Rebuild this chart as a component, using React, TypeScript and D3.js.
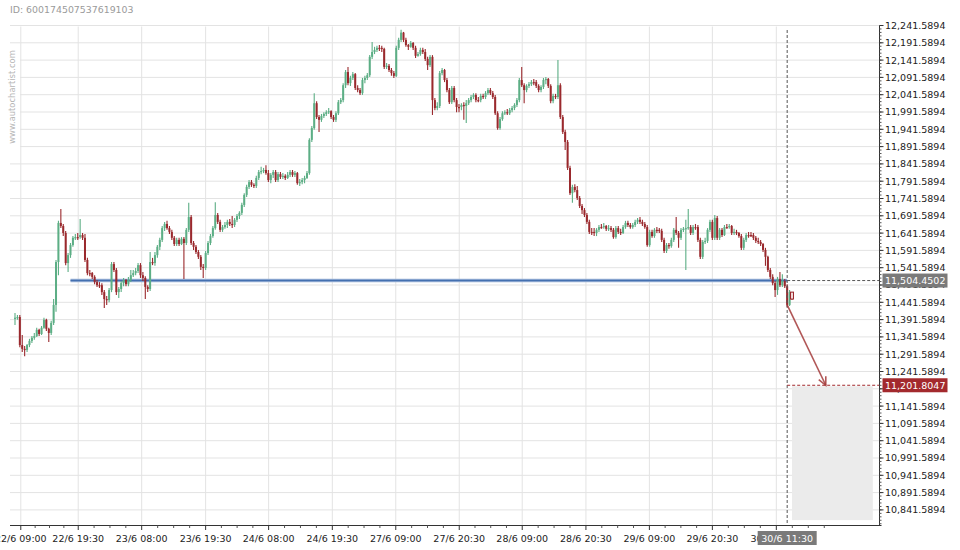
import React from 'react';
import * as d3 from 'd3';

const ID_TEXT = 'ID: 600174507537619103';
const WATERMARK = 'www.autochartist.com';

const FIRST_OPEN = 11394;
const CLOSE = [
  11397, 11399, 11318, 11307, 11304, 11318, 11330, 11339, 11344, 11362,
  11350, 11368, 11391, 11365, 11353, 11382, 11434, 11558, 11671, 11662,
  11642, 11555, 11578, 11607, 11628, 11630, 11630, 11636, 11628, 11564,
  11526, 11526, 11515, 11500, 11491, 11491, 11471, 11451, 11448, 11477,
  11552, 11535, 11471, 11480, 11497, 11506, 11494, 11506, 11520, 11526,
  11532, 11549, 11520, 11512, 11486, 11480, 11558, 11555, 11578, 11602,
  11622, 11656, 11668, 11656, 11645, 11628, 11610, 11622, 11610, 11625,
  11613, 11651, 11688, 11613, 11602, 11587, 11573, 11544, 11541, 11584,
  11613, 11633, 11656, 11694, 11674, 11651, 11659, 11665, 11674, 11668,
  11665, 11680, 11691, 11700, 11723, 11752, 11775, 11789, 11781, 11778,
  11801, 11818, 11821, 11824, 11815, 11795, 11810, 11818, 11795, 11812,
  11804, 11807, 11801, 11810, 11818, 11810, 11815, 11786, 11789, 11795,
  11801, 11815, 11911, 11945, 12017, 11977, 11969, 11980, 11986, 11991,
  11994, 11977, 11969, 11988, 12020, 12026, 12069, 12107, 12075, 12090,
  12101, 12061, 12055, 12046, 12084, 12090, 12098, 12151, 12165, 12171,
  12177, 12177, 12174, 12122, 12125, 12113, 12104, 12096, 12177, 12200,
  12221, 12200, 12185, 12180, 12191, 12177, 12154, 12159, 12171, 12165,
  12145, 12127, 12151, 12026, 12003, 12009, 12104, 12113, 12084, 12055,
  12020, 12061, 12026, 12006, 12006, 12012, 12009, 12017, 12026, 12035,
  12041, 12026, 12026, 12038, 12035, 12046, 12055, 12046, 12035, 11988,
  11945, 11971, 11988, 11991, 11988, 11997, 12003, 12012, 12026, 12084,
  12069, 12055, 12067, 12072, 12078, 12078, 12067, 12055, 12064, 12084,
  12087, 12067, 12023, 12038, 12035, 12069, 11977, 11934, 11905, 11830,
  11757, 11775, 11766, 11743, 11720, 11708, 11694, 11674, 11645, 11645,
  11642, 11651, 11659, 11659, 11662, 11654, 11656, 11651, 11630, 11656,
  11645, 11642, 11659, 11671, 11665, 11659, 11665, 11674, 11680, 11674,
  11668, 11659, 11607, 11645, 11633, 11651, 11651, 11648, 11622, 11590,
  11607, 11604, 11622, 11651, 11642, 11628, 11651, 11654, 11656, 11659,
  11642, 11659, 11659, 11622, 11573, 11616, 11619, 11651, 11674, 11628,
  11685, 11628, 11651, 11636, 11659, 11659, 11662, 11642, 11645, 11642,
  11633, 11599, 11622, 11636, 11636, 11636, 11628, 11619, 11616, 11610,
  11593, 11573, 11535, 11515, 11497, 11477, 11509, 11491, 11503, 11488,
  11434, 11471, 11451,
];
const HIGH = [
  11411, 11405, 11405, 11347, 11315, 11321, 11336, 11344, 11353, 11368,
  11365, 11373, 11397, 11394, 11368, 11388, 11451, 11564, 11677, 11711,
  11668, 11648, 11584, 11613, 11633, 11639, 11642, 11682, 11642, 11639,
  11570, 11535, 11529, 11520, 11506, 11500, 11497, 11477, 11460, 11483,
  11558, 11558, 11541, 11486, 11503, 11512, 11509, 11515, 11535, 11535,
  11541, 11555, 11555, 11529, 11517, 11491, 11587, 11570, 11587, 11607,
  11628, 11662, 11674, 11677, 11662, 11651, 11633, 11628, 11628, 11630,
  11630, 11656, 11729, 11694, 11619, 11607, 11593, 11578, 11552, 11590,
  11619, 11639, 11662, 11731, 11700, 11680, 11665, 11674, 11680, 11682,
  11691, 11685, 11697, 11705, 11729, 11757, 11781, 11795, 11795, 11786,
  11807, 11824, 11833, 11830, 11838, 11824, 11815, 11824, 11824, 11818,
  11818, 11815, 11812, 11818, 11824, 11824, 11821, 11818, 11798, 11801,
  11807, 11821, 11916, 11951, 12046, 12023, 11983, 11986, 11991, 11997,
  12003, 11997, 11983, 11994, 12026, 12032, 12075, 12113, 12122, 12096,
  12107, 12104, 12069, 12061, 12090, 12096, 12104, 12156, 12194, 12180,
  12183, 12185, 12183, 12177, 12133, 12130, 12119, 12110, 12183, 12206,
  12229, 12223, 12206, 12188, 12197, 12194, 12183, 12165, 12177, 12177,
  12174, 12151, 12156, 12156, 12032, 12020, 12110, 12119, 12116, 12090,
  12061, 12067, 12067, 12032, 12015, 12017, 12020, 12026, 12032, 12041,
  12046, 12046, 12035, 12044, 12044, 12052, 12061, 12061, 12052, 12041,
  11994, 11977, 11994, 11997, 12000, 12003, 12009, 12017, 12032, 12090,
  12122, 12075, 12072, 12078, 12084, 12087, 12084, 12072, 12069, 12090,
  12093, 12090, 12072, 12044, 12044, 12142, 12075, 11983, 11940, 11911,
  11836, 11781, 11783, 11778, 11749, 11726, 11714, 11700, 11680, 11656,
  11656, 11656, 11665, 11668, 11671, 11665, 11665, 11662, 11656, 11662,
  11662, 11654, 11665, 11677, 11677, 11671, 11671, 11680, 11685, 11688,
  11680, 11674, 11665, 11651, 11651, 11656, 11659, 11656, 11654, 11628,
  11613, 11613, 11628, 11656, 11688, 11648, 11656, 11659, 11680, 11711,
  11665, 11665, 11668, 11665, 11628, 11622, 11628, 11656, 11680, 11680,
  11694, 11691, 11656, 11656, 11665, 11668, 11668, 11665, 11654, 11651,
  11645, 11639, 11628, 11642, 11645, 11645, 11642, 11633, 11628, 11622,
  11613, 11599, 11576, 11541, 11523, 11503, 11515, 11529, 11523, 11509,
  11494, 11477, 11471,
];
const LOW = [
  11376, 11391, 11312, 11298, 11286, 11298, 11312, 11324, 11333, 11341,
  11344, 11347, 11365, 11359, 11327, 11347, 11376, 11414, 11520, 11656,
  11633, 11549, 11529, 11570, 11602, 11622, 11622, 11625, 11622, 11558,
  11520, 11517, 11509, 11494, 11486, 11483, 11463, 11425, 11434, 11442,
  11471, 11529, 11463, 11454, 11471, 11488, 11488, 11488, 11500, 11515,
  11520, 11526, 11512, 11503, 11451, 11471, 11474, 11549, 11547, 11570,
  11593, 11616, 11648, 11651, 11639, 11622, 11604, 11604, 11604, 11607,
  11509, 11607, 11645, 11607, 11593, 11581, 11567, 11535, 11512, 11535,
  11578, 11607, 11628, 11651, 11668, 11645, 11645, 11654, 11656, 11662,
  11656, 11659, 11674, 11682, 11694, 11717, 11746, 11769, 11775, 11772,
  11772, 11795, 11812, 11815, 11810, 11789, 11786, 11801, 11789, 11789,
  11798, 11798, 11795, 11798, 11804, 11804, 11804, 11781, 11778, 11783,
  11786, 11798, 11810, 11905, 11940, 11971, 11934, 11963, 11974, 11980,
  11986, 11971, 11963, 11963, 11983, 12015, 12020, 12061, 12069, 12067,
  12084, 12055, 12049, 12041, 12041, 12075, 12084, 12093, 12145, 12159,
  12165, 12168, 12165, 12116, 12116, 12107, 12096, 12090, 12093, 12171,
  12194, 12194, 12180, 12171, 12177, 12171, 12148, 12151, 12154, 12159,
  12139, 12113, 12122, 11983, 11997, 11997, 12003, 12098, 12078, 12049,
  12015, 12015, 12020, 11991, 11991, 11997, 11969, 11960, 12012, 12020,
  12029, 12020, 12020, 12020, 12029, 12029, 12041, 12041, 12029, 11983,
  11940, 11940, 11966, 11983, 11983, 11983, 11991, 11997, 12006, 12020,
  12064, 12017, 12049, 12061, 12067, 12069, 12061, 12049, 12049, 12058,
  12072, 12061, 12017, 12017, 12029, 12029, 11971, 11928, 11882, 11824,
  11752, 11729, 11760, 11737, 11714, 11697, 11688, 11668, 11639, 11636,
  11633, 11633, 11645, 11654, 11654, 11648, 11648, 11645, 11625, 11625,
  11639, 11636, 11639, 11654, 11659, 11654, 11654, 11659, 11668, 11668,
  11662, 11654, 11602, 11602, 11628, 11628, 11642, 11642, 11616, 11584,
  11584, 11596, 11599, 11616, 11636, 11599, 11622, 11645, 11535, 11651,
  11636, 11636, 11651, 11616, 11567, 11567, 11610, 11613, 11645, 11622,
  11622, 11622, 11622, 11630, 11633, 11654, 11654, 11636, 11636, 11636,
  11628, 11593, 11593, 11616, 11628, 11630, 11622, 11613, 11610, 11604,
  11587, 11547, 11529, 11509, 11491, 11457, 11463, 11486, 11486, 11483,
  11428, 11431, 11448,
];

const X_LABELS = [
  '22/6 09:00', '22/6 19:30', '23/6 08:00', '23/6 19:30', '24/6 08:00', '24/6 19:30',
  '27/6 09:00', '27/6 20:30', '28/6 09:00', '28/6 20:30', '29/6 09:00', '29/6 20:30', '30/6 09:00',
];
const X_LABEL_INDEX = [2.4, 26.2, 52.5, 79, 105.1, 131.5, 157.8, 184.1, 210.2, 236.6, 262.9, 289, 315.5];

const Y_TOP = 12241.5894;
const Y_LABELLED_LOW = 10841.5894;
const Y_STEP = 50;
const Y_MINOR = 10;

const SUPPORT = 11504.4502;
const SUPPORT_START = 23;
const CURSOR_INDEX = 320;
const CURSOR_LABEL = '30/6 11:30';
const TARGET = 11201.8047;
const TARGET_INDEX = 336;
const ZONE_START = 322;
const ZONE_END = 355.5;
const ZONE_LOW = 10812;

const GREEN = '#5cae85';
const RED = '#9a292d';
const FONT = 'DejaVu Sans';

export default function App() {
  const n = CLOSE.length;
  const x = d3.scaleLinear().domain([0, n - 1]).range([15, 792]);
  const y = d3.scaleLinear().domain([Y_LABELLED_LOW, Y_TOP]).range([509.9, 25.5]);
  const plotL = 10;
  const plotR = 879.5;
  const plotT = 25.5;
  const plotB = 525.5;
  const yBottomVal = y.invert(plotB);
  const majors = d3.range(0, Math.floor((Y_TOP - yBottomVal) / Y_STEP) + 1).map((k) => Y_TOP - k * Y_STEP);
  const minors = d3.range(0, Math.floor((Y_TOP - yBottomVal) / Y_MINOR) + 1).map((k) => Y_TOP - k * Y_MINOR);
  const fmt = d3.format(',.4f');

  const tickX = X_LABEL_INDEX.map((v) => x(v));
  const minorX: number[] = [];
  for (let k = 0; k < tickX.length; k++) {
    const next = k < tickX.length - 1 ? tickX[k + 1] : tickX[k] + (tickX[k] - tickX[k - 1]);
    for (let q = 1; q < 4; q++) minorX.push(tickX[k] + ((next - tickX[k]) * q) / 4);
  }

  const cx = x(CURSOR_INDEX);
  const arrowFrom: [number, number] = [x(CURSOR_INDEX), y(CLOSE[CURSOR_INDEX])];
  const arrowTo: [number, number] = [x(TARGET_INDEX), y(TARGET)];
  const ang = Math.atan2(arrowFrom[1] - arrowTo[1], arrowFrom[0] - arrowTo[0]);
  const headLen = 9;
  const headA = 0.45;
  const h1: [number, number] = [arrowTo[0] + headLen * Math.cos(ang + headA), arrowTo[1] + headLen * Math.sin(ang + headA)];
  const h2: [number, number] = [arrowTo[0] + headLen * Math.cos(ang - headA), arrowTo[1] + headLen * Math.sin(ang - headA)];
  const line = d3.line();

  return (
    <svg width={960} height={550} style={{ position: 'absolute', left: 0, top: 0, background: '#fff' }} fontFamily={FONT}>
      <rect x={0} y={0} width={960} height={550} fill="#fff" />
      {/* grid */}
      {majors.map((v, i) => (
        <line key={'hg' + i} x1={plotL} x2={plotR} y1={y(v)} y2={y(v)} stroke="#e3e3e3" strokeWidth={1} />
      ))}
      {tickX.map((tx, i) => (
        <line key={'vg' + i} x1={tx} x2={tx} y1={plotT + 1} y2={plotB} stroke="#e3e3e3" strokeWidth={1} />
      ))}

      {/* watermark */}
      <rect x={3} y={46} width={17} height={104} fill="#fff" />
      <text transform="translate(14.5,97) rotate(-90)" textAnchor="middle" fontSize={8.4} fill="#b5b5b5">
        {WATERMARK}
      </text>
      <text x={10} y={13} fontSize={9.4} fill="#9a9a9a">{ID_TEXT}</text>

      {/* projection zone */}
      <rect x={x(ZONE_START)} y={y(TARGET) + 1} width={x(ZONE_END) - x(ZONE_START)} height={y(ZONE_LOW) - y(TARGET) - 1} fill="#ebebeb" />

      {/* support line */}
      <line x1={x(SUPPORT_START)} x2={cx} y1={y(SUPPORT)} y2={y(SUPPORT)} stroke="#9db4d8" strokeWidth={3.4} />
      <line x1={x(SUPPORT_START)} x2={cx} y1={y(SUPPORT)} y2={y(SUPPORT)} stroke="#4470b0" strokeWidth={1.5} />

      {/* candles */}
      {CLOSE.map((c, i) => {
        const o = i === 0 ? FIRST_OPEN : CLOSE[i - 1];
        const up = c > o;
        const col = up ? GREEN : RED;
        const hi = Math.max(HIGH[i], o, c);
        const lo = Math.min(LOW[i], o, c);
        const xi = x(i);
        const top = y(Math.max(o, c));
        const bot = y(Math.min(o, c));
        const last = i === n - 1;
        const bh = Math.max(bot - top, 1.2);
        return (
          <g key={'c' + i}>
            <line x1={xi} x2={xi} y1={y(hi)} y2={y(lo)} stroke={col} strokeWidth={1.1} />
            {last ? (
              <rect x={xi - 1.5} y={top} width={3} height={bh} fill="#f1dada" stroke={col} strokeWidth={1} />
            ) : (
              <rect x={xi - 1} y={top} width={2} height={bh} fill={col} />
            )}
          </g>
        );
      })}

      {/* crosshair */}
      <line x1={cx} x2={cx} y1={30} y2={plotB} stroke="#555" strokeWidth={1} strokeDasharray="3,2" />
      <line x1={cx} x2={plotR} y1={y(SUPPORT)} y2={y(SUPPORT)} stroke="#555" strokeWidth={1} strokeDasharray="3,2" />
      <line x1={cx} x2={plotR} y1={y(TARGET)} y2={y(TARGET)} stroke="#a3292d" strokeWidth={1} strokeDasharray="3,2" />

      {/* forecast arrow */}
      <path d={line([arrowFrom, arrowTo]) || ''} stroke="#a33a3a" strokeWidth={1.6} strokeOpacity={0.85} fill="none" />
      <path d={line([h1, arrowTo, h2]) || ''} stroke="#a33a3a" strokeWidth={1.6} strokeOpacity={0.85} fill="none" />

      {/* axes */}
      <line x1={plotR} x2={plotR} y1={plotT} y2={plotB} stroke="#333" strokeWidth={1} />
      <line x1={plotL} x2={plotR + 2} y1={plotB} y2={plotB} stroke="#333" strokeWidth={1} />
      {minors.map((v, i) => (
        <line key={'ym' + i} x1={plotR} x2={plotR + 2} y1={y(v)} y2={y(v)} stroke="#555" strokeWidth={1} />
      ))}
      {majors.map((v, i) => (
        <g key={'yl' + i}>
          <line x1={plotR} x2={plotR + 4} y1={y(v)} y2={y(v)} stroke="#333" strokeWidth={1} />
          {y(v) <= 512 && (
            <text x={885} y={y(v)} dy="0.36em" fontSize={9.5} fill="#222">{fmt(v)}</text>
          )}
        </g>
      ))}
      {minorX.map((mx, i) => (
        <line key={'xm' + i} x1={mx} x2={mx} y1={plotB} y2={plotB + 2.5} stroke="#555" strokeWidth={1} />
      ))}
      {tickX.map((tx, i) => (
        <g key={'xl' + i}>
          <line x1={tx} x2={tx} y1={plotB} y2={plotB + 4.5} stroke="#333" strokeWidth={1} />
          <text x={tx} y={542} textAnchor="middle" fontSize={9.5} fill="#222">{X_LABELS[i]}</text>
        </g>
      ))}

      {/* value tags */}
      <rect x={882.5} y={y(SUPPORT) - 7} width={65} height={14} fill="#7a7a7a" />
      <text x={885} y={y(SUPPORT)} dy="0.36em" fontSize={9.5} fill="#fff">{fmt(SUPPORT)}</text>
      <rect x={882.5} y={y(TARGET) - 7} width={65} height={14} fill="#a3292d" />
      <text x={885} y={y(TARGET)} dy="0.36em" fontSize={9.5} fill="#fff">{fmt(TARGET)}</text>
      <rect x={cx - 29.5} y={531} width={59} height={14} fill="#7a7a7a" />
      <text x={cx} y={542} textAnchor="middle" fontSize={9.5} fill="#fff">{CURSOR_LABEL}</text>
    </svg>
  );
}
